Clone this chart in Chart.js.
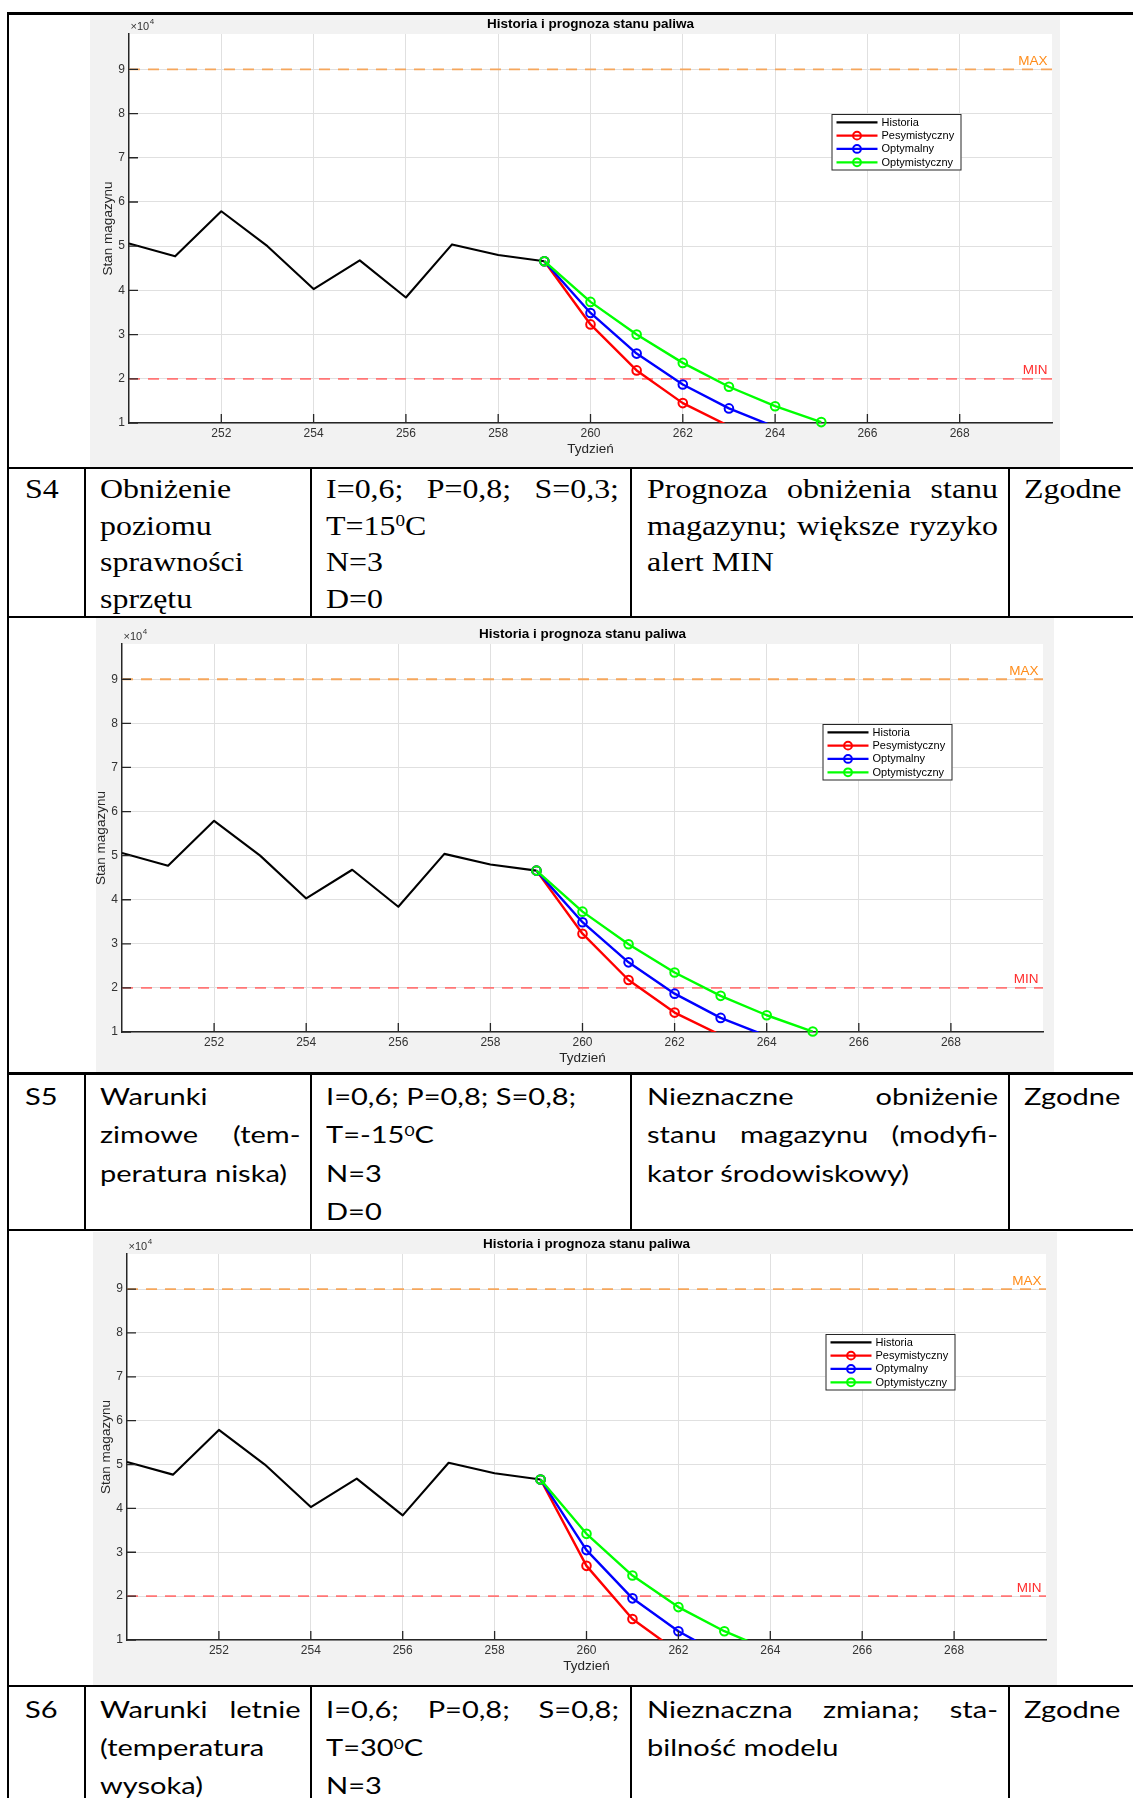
<!DOCTYPE html>
<html lang="pl">
<head>
<meta charset="utf-8">
<title>Historia i prognoza stanu paliwa</title>
<script src="https://cdn.jsdelivr.net/npm/chart.js@4/dist/chart.umd.min.js"></script>
<style>
html,body{margin:0;padding:0;background:#fff;}
#page{position:relative;width:1133px;height:1798px;overflow:hidden;background:#fff;}
.grey{position:absolute;background:#f2f2f2;z-index:0;}
canvas{position:absolute;z-index:1;}
.hl,.vl{position:absolute;background:#000;z-index:3;}
.ln{position:absolute;white-space:nowrap;color:#000;transform-origin:0 0;z-index:2;}
.serif{font-family:"Liberation Serif","Times New Roman",serif;font-size:28px;}
.sans{font-family:Lato,Carlito,Calibri,sans-serif;font-size:22.5px;}
.just{display:flex;justify-content:space-between;}
sup{font-size:0.6em;line-height:0;vertical-align:0.55em;}
</style>
</head>
<body>
<div id="page"></div>
<script>
// ---------------- data ----------------
const chartTitle = 'Historia i prognoza stanu paliwa';
const xTitle = 'Tydzień';
const yTitle = 'Stan magazynu';
const seriesLabels = ['Historia', 'Pesymistyczny', 'Optymalny', 'Optymistyczny'];
const limitLabels = ['MAX', 'MIN'];

const histWeeks  = [250, 251, 252, 253, 254, 255, 256, 257, 258, 259];
const histValues = [50600, 47700, 57900, 50000, 40300, 46800, 38400, 50400, 48000, 46600];

const forecastWeeks = [259, 260, 261, 262, 263, 264, 265];
// figure above S4
const pesA  = [46600, 32300, 21900, 14500, 9300];
const optA  = [46600, 34900, 25700, 18700, 13300, 9100];
const optmA = [46600, 37400, 30000, 23600, 18200, 13800, 10200];
// figure of S4
const pesB  = [46600, 32300, 21800, 14400, 9300];
const optB  = [46600, 34900, 25800, 18700, 13200, 9100];
const optmB = [46600, 37300, 29900, 23500, 18200, 13800, 10100];
// figure of S5
const pesC  = [46600, 26900, 14800, 7200];
const optC  = [46600, 30500, 19500, 12000, 6200];
const optmC = [46600, 34200, 24700, 17500, 12000, 7600];

const maxLevel = 90000;
const minLevel = 20000;
const limitWeeks = [250, 270];
const xRange = [250, 270];
const yRange = [10000, 98000];
const xTickValues = [252, 254, 256, 258, 260, 262, 264, 266, 268];
const yTickValues = [10000, 20000, 30000, 40000, 50000, 60000, 70000, 80000, 90000];
const yExponent = '4';

// table text ('|' marks a justified line)
const tableRows = [
  {font:'serif', sx:1.14, base:498.3, pitch:36.5, cells:[
    ['S4'],
    ['Obniżenie', 'poziomu', 'sprawności', 'sprzętu'],
    ['|I=0,6;  P=0,8;  S=0,3;', 'T=15<sup>0</sup>C', 'N=3', 'D=0'],
    ['|Prognoza obniżenia stanu', '|magazynu; większe ryzyko', 'alert MIN'],
    ['Zgodne']]},
  {font:'sans', sx:1.29, base:1105, pitch:38.3, cells:[
    ['S5'],
    ['Warunki', '|zimowe (tem-', 'peratura niska)'],
    ['I=0,6; P=0,8; S=0,8;', 'T=-15<sup>0</sup>C', 'N=3', 'D=0'],
    ['|Nieznaczne obniżenie', '|stanu magazynu (modyfi-', 'kator środowiskowy)'],
    ['Zgodne']]},
  {font:'sans', sx:1.29, base:1717.5, pitch:38.3, cells:[
    ['S6'],
    ['|Warunki letnie', '(temperatura', 'wysoka)'],
    ['|I=0,6;  P=0,8;  S=0,8;', 'T=30<sup>0</sup>C', 'N=3'],
    ['|Nieznaczna zmiana; sta-', 'bilność modelu'],
    ['Zgodne']]}
];

// ---------------- layout / style ----------------
const colX = [25, 99.5, 326, 647, 1024];
const colRight = [80, 300, 619, 998, 1133];
const hLines = [13.5, 468, 617, 1073.5, 1230, 1686];
const vLines = [85, 311, 631, 1009];
const rowSpans = [[468, 617], [1073.5, 1230], [1686, 1798]];

const figures = [
  {grey:[90, 14, 1060, 467],       plot:[129, 34, 1052, 423],    pes:pesA, opt:optA, optm:optmA},
  {grey:[96.4, 618, 1053.6, 1073], plot:[122, 644, 1043, 1032],  pes:pesB, opt:optB, optm:optmB},
  {grey:[93, 1232, 1056.6, 1686],  plot:[127, 1254, 1046, 1640], pes:pesC, opt:optC, optm:optmC}
];

const FONT = '"Liberation Sans", Arial, Helvetica, sans-serif';
const AX = '#262626';
const GRID = '#e0e0e0';
const colHist = '#000000', colPes = '#ff0000', colOpt = '#0000ff', colOptm = '#00ff00';
const legendColors = [colHist, colPes, colOpt, colOptm];
const maxLineColor = '#f5a65c', minLineColor = '#ff7676';
const maxTextColor = '#ff8c1a', minTextColor = '#ff2e2e';

const page = document.getElementById('page');
function box(cls, l, t, w, h) {
  const d = document.createElement('div');
  d.className = cls;
  Object.assign(d.style, {left:l+'px', top:t+'px', width:w+'px', height:h+'px'});
  page.appendChild(d);
  return d;
}

// table lines
hLines.forEach(y => box('hl', 7, y - 1.25, 1133 - 7, 2.5));
box('vl', 7, 12.25, 2, 1798 - 12.25);
rowSpans.forEach(([a, b]) => vLines.forEach(x => box('vl', x - 1, a, 2, b - a)));

// table text
function baselineOffset(cls) {
  const d = document.createElement('div');
  d.className = 'ln ' + cls;
  d.style.top = '0px'; d.style.left = '0px'; d.style.visibility = 'hidden';
  d.innerHTML = 'Hg<span style="display:inline-block;width:0;height:0"></span>';
  page.appendChild(d);
  const off = d.lastChild.offsetTop;
  d.remove();
  return off;
}
const baseOff = {serif: baselineOffset('serif'), sans: baselineOffset('sans')};
tableRows.forEach(r => {
  r.cells.forEach((lines, ci) => {
    lines.forEach((txt, li) => {
      const d = document.createElement('div');
      d.className = 'ln ' + r.font;
      const just = txt.startsWith('|');
      const t = just ? txt.slice(1) : txt;
      if (just) {
        d.classList.add('just');
        d.style.width = ((colRight[ci] - colX[ci]) / r.sx) + 'px';
        t.split(/\s+/).forEach(w => {
          const s = document.createElement('span');
          s.innerHTML = w;
          d.appendChild(s);
        });
      } else {
        d.innerHTML = t;
      }
      d.style.left = colX[ci] + 'px';
      d.style.top = (r.base + li * r.pitch - baseOff[r.font]) + 'px';
      if (r.sx !== 1) d.style.transform = 'scaleX(' + r.sx + ')';
      page.appendChild(d);
    });
  });
});

// ---------------- charts ----------------
const pts = (w, v) => v.map((y, i) => ({x: w[i], y: y}));
const markerRadius = ctx => (ctx.raw && ctx.raw.y >= yRange[0]) ? 4.3 : 0;

function lineDs(label, vals, color, order) {
  return {label, data: pts(forecastWeeks, vals), borderColor: color, backgroundColor: color,
    borderWidth: 2.4, pointRadius: 0, order, clip: 0};
}
function markDs(label, vals, color, order) {
  return {label, data: pts(forecastWeeks, vals), showLine: false, borderColor: color,
    pointBorderColor: color, pointBackgroundColor: 'rgba(0,0,0,0)', pointBorderWidth: 2,
    pointRadius: markerRadius, pointStyle: 'circle', order, clip: false};
}

const decor = {
  id: 'decor',
  beforeDraw(chart) {
    const a = chart.chartArea, c = chart.ctx;
    c.save();
    c.fillStyle = '#ffffff';
    c.fillRect(a.left, a.top, a.right - a.left, a.bottom - a.top);
    c.restore();
  },
  afterDraw(chart) {
    const a = chart.chartArea, c = chart.ctx, xs = chart.scales.x, ys = chart.scales.y;
    c.save();
    // inward tick marks
    c.strokeStyle = AX; c.lineWidth = 1.3;
    c.beginPath();
    xs.ticks.forEach(t => { const p = xs.getPixelForValue(t.value); c.moveTo(p, a.bottom); c.lineTo(p, a.bottom - 9); });
    ys.ticks.forEach(t => { const p = ys.getPixelForValue(t.value); c.moveTo(a.left, p); c.lineTo(a.left + 9, p); });
    c.stroke();
    // exponent label
    c.fillStyle = '#333'; c.textAlign = 'left'; c.textBaseline = 'alphabetic';
    c.font = '11px ' + FONT;
    c.fillText('×10', a.left + 1.5, a.top - 4.5);
    const w = c.measureText('×10').width;
    c.font = '8px ' + FONT;
    c.fillText(yExponent, a.left + 2 + w, a.top - 10);
    // limit labels
    c.font = '13.5px ' + FONT; c.textAlign = 'right';
    c.fillStyle = maxTextColor;
    c.fillText(limitLabels[0], a.right - 4.5, ys.getPixelForValue(maxLevel) - 4.5);
    c.fillStyle = minTextColor;
    c.fillText(limitLabels[1], a.right - 4.5, ys.getPixelForValue(minLevel) - 4.5);
    // legend
    const lw = 130, lh = 56.5;
    const x0 = a.right - 90.5 - lw, y0 = a.top + 80;
    c.fillStyle = '#fff'; c.fillRect(x0, y0, lw, lh);
    c.strokeStyle = AX; c.lineWidth = 1; c.strokeRect(x0 + 0.5, y0 + 0.5, lw - 1, lh - 1);
    c.font = '11px ' + FONT; c.textAlign = 'left'; c.textBaseline = 'middle';
    seriesLabels.forEach((lab, i) => {
      const y = y0 + 8.3 + i * 13.33;
      c.strokeStyle = legendColors[i]; c.lineWidth = 2.2;
      c.beginPath(); c.moveTo(x0 + 5, y); c.lineTo(x0 + 46, y); c.stroke();
      if (i > 0) { c.lineWidth = 2; c.beginPath(); c.arc(x0 + 25.5, y, 3.9, 0, Math.PI * 2); c.stroke(); }
      c.fillStyle = '#000'; c.fillText(lab, x0 + 50, y + 0.5);
    });
    c.restore();
  }
};

function config(f) {
  return {
    type: 'line',
    data: {datasets: [
      {label: limitLabels[0], data: pts(limitWeeks, [maxLevel, maxLevel]), borderColor: maxLineColor, borderWidth: 1.8, borderDash: [11, 8], pointRadius: 0, order: 10, clip: 0},
      {label: limitLabels[1], data: pts(limitWeeks, [minLevel, minLevel]), borderColor: minLineColor, borderWidth: 1.8, borderDash: [11, 8], pointRadius: 0, order: 10, clip: 0},
      {label: seriesLabels[0], data: pts(histWeeks, histValues), borderColor: colHist, borderWidth: 2.1, pointRadius: 0, order: 8, clip: 0},
      lineDs(seriesLabels[1], f.pes, colPes, 7), markDs(seriesLabels[1], f.pes, colPes, 6),
      lineDs(seriesLabels[2], f.opt, colOpt, 5), markDs(seriesLabels[2], f.opt, colOpt, 4),
      lineDs(seriesLabels[3], f.optm, colOptm, 3), markDs(seriesLabels[3], f.optm, colOptm, 2)
    ]},
    options: {
      responsive: false, animation: false, events: [],
      layout: {padding: {left: 0, top: 0, right: 10, bottom: 0}},
      elements: {line: {tension: 0, borderJoinStyle: 'round'}},
      plugins: {
        legend: {display: false},
        tooltip: {enabled: false},
        title: {display: true, text: chartTitle, fullSize: false, color: '#000',
          font: {family: FONT, size: 13.5, weight: 'bold'}, padding: {top: 3.9, bottom: 1.9}}
      },
      scales: {
        x: {type: 'linear', min: xRange[0], max: xRange[1],
          afterBuildTicks: s => { s.ticks = xTickValues.map(v => ({value: v})); },
          afterFit: s => { s.height = 40; },
          grid: {color: GRID, lineWidth: 1, drawTicks: false},
          border: {display: true, color: AX, width: 1.5},
          ticks: {color: '#333', font: {family: FONT, size: 12}, padding: 3.2, maxRotation: 0, autoSkip: false, callback: v => String(v)},
          title: {display: true, text: xTitle, color: AX, font: {family: FONT, size: 13.5}, padding: {top: 0, bottom: 6.1}}
        },
        y: {type: 'linear', min: yRange[0], max: yRange[1],
          afterBuildTicks: s => { s.ticks = yTickValues.map(v => ({value: v})); },
          afterFit: s => { s.width = 40; },
          grid: {color: GRID, lineWidth: 1, drawTicks: false},
          border: {display: true, color: AX, width: 1.5},
          ticks: {color: '#333', font: {family: FONT, size: 12}, padding: 4, callback: v => v / Math.pow(10, Number(yExponent))},
          title: {display: true, text: yTitle, color: AX, font: {family: FONT, size: 13.5}, padding: {top: 10.9, bottom: 0}}
        }
      }
    },
    plugins: [decor]
  };
}

figures.forEach(f => {
  box('grey', f.grey[0], f.grey[1], f.grey[2] - f.grey[0], f.grey[3] - f.grey[1]);
  const [pl, pt, pr, pb] = f.plot;
  const cv = document.createElement('canvas');
  const W = pr - pl + 50, H = pb - pt + 62;
  cv.width = W; cv.height = H;
  cv.style.width = W + 'px'; cv.style.height = H + 'px';
  cv.style.left = (pl - 40) + 'px'; cv.style.top = (pt - 22) + 'px';
  page.appendChild(cv);
  new Chart(cv, config(f));
});
</script>
</body>
</html>
